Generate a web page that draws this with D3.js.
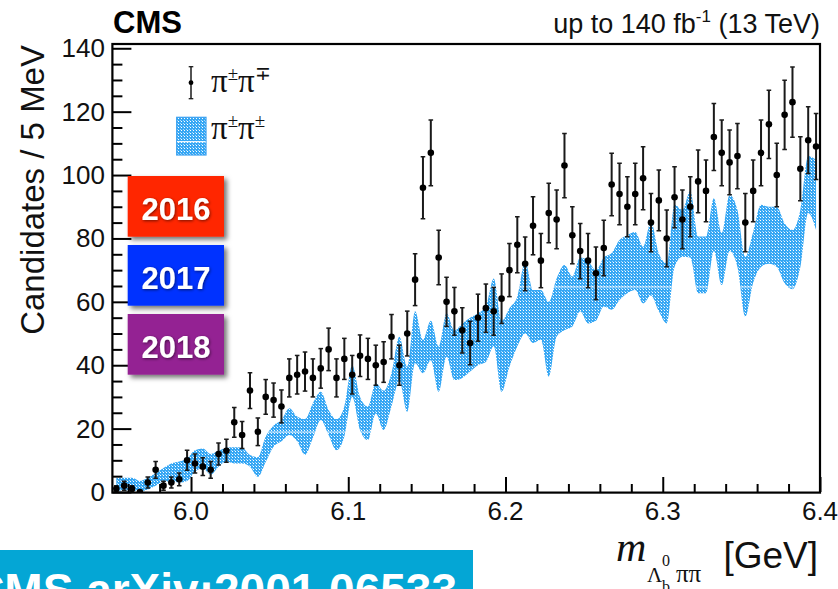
<!DOCTYPE html>
<html>
<head>
<meta charset="utf-8">
<script src="https://cdn.jsdelivr.net/npm/d3@7"></script>
<style>
  html, body { margin: 0; padding: 0; background: #fff; overflow: hidden; }
  svg { display: block; }
</style>
</head>
<body>
<script>
// Λb0ππ invariant-mass spectrum, 5 MeV bins from 5.95 to 6.40 GeV
const massRange = [5.95, 6.40];
const binWidth = 0.005;

// opposite-sign pairs (π±π∓): candidates per bin
const oppositeSign = [
  1, 2, 1, 0, 3, 7, 2, 3, 4, 10,
  9, 8, 7, 12, 13, 22, 18, 32, 19, 30,
  29, 27, 36, 37, 38, 36, 39, 45, 36, 42,
  37, 43, 42, 40, 41, 49, 40, 50, 67, 96,
  107, 74, 60, 57, 51, 47, 55, 58, 57, 61,
  70, 78, 72, 84, 73, 88, 86, 103, 81, 76,
  73, 69, 77, 97, 94, 90, 94, 99, 85, 92,
  80, 93, 86, 90, 98, 95, 112, 107, 104, 106,
  85, 95, 107, 116, 100, 119, 123, 102, 111, 109
];

// same-sign pairs (π±π±): band upper and lower edges per bin
const sameSignHigh = [
  4.5, 4.5, 4.5, 3.5, 4.5, 6, 7.6, 9, 9.6, 10.6,
  13.2, 13.7, 12, 13, 14, 14.1, 14, 11.7, 11, 17.5,
  21, 22.7, 26.4, 23.8, 23, 28, 31.6, 25.9, 23, 27,
  40, 30, 27, 34.3, 32, 37.5, 49, 39.5, 57, 48,
  54, 45.9, 56.4, 51, 53.2, 55, 56.4, 58.5, 67.4, 54,
  58, 61.6, 72.7, 63.7, 63.7, 60, 67.4, 71.6, 68, 74,
  73, 70, 74, 75.4, 79.5, 81, 82, 77.4, 85.3, 75.3,
  72.2, 90.6, 89, 95, 80.6, 80.6, 92.7, 81.7, 93.7, 89,
  74.2, 82, 90.6, 90, 90, 84.8, 82.7, 89, 106, 104.8
];
const sameSignLow = [
  0.5, 0.5, 0.5, 0.3, 0.8, 2, 3.3, 3.3, 3, 3.5,
  6.4, 7.5, 5.5, 8, 9.6, 9, 9, 8, 4.8, 9.5,
  14.3, 16, 18, 16, 11.7, 17, 22.7, 18, 13.2, 17.5,
  30, 19.6, 16.4, 24.8, 19.6, 27, 35, 25.3, 40.6, 37.5,
  41.6, 31.6, 42.7, 35.3, 36, 38, 40, 41, 46, 31.6,
  39.5, 45.9, 50, 47, 48, 36.4, 49, 51, 52.2, 57,
  53.2, 54, 58.5, 57.5, 60.6, 62.7, 63.7, 59.5, 62, 57,
  53.2, 71, 74.2, 74, 62.7, 62.7, 76, 65.3, 76, 71,
  55.3, 66, 71, 72, 71, 65.9, 64, 71, 88, 82.7
];

const xTickValues = [6.0, 6.1, 6.2, 6.3, 6.4];
const xTickLabels = ["6.0", "6.1", "6.2", "6.3", "6.4"];
const yTickValues = [0, 20, 40, 60, 80, 100, 120, 140];
const yearLabels = ["2016", "2017", "2018"];
const yearColors = ["#ff2600", "#0433ff", "#942193"];

const W = 838, H = 589;
const plot = { left: 112.4, right: 820, top: 44, bottom: 492 };

const x = d3.scaleLinear().domain(massRange).range([plot.left, plot.right]);
const y = d3.scaleLinear().domain([0, 141.35]).range([plot.bottom, plot.top]);

const centres = oppositeSign.map((_, i) => massRange[0] + binWidth * (i + 0.5));

const svg = d3.select("body").append("svg").attr("width", W).attr("height", H);
const defs = svg.append("defs");

// dotted light-blue fill used for the same-sign band
const pat = defs.append("pattern").attr("id", "dots")
  .attr("patternUnits", "userSpaceOnUse").attr("width", 3).attr("height", 3);
pat.append("rect").attr("width", 3).attr("height", 3).attr("fill", "#36a7f4");
pat.append("rect").attr("x", 1).attr("y", 1).attr("width", 1).attr("height", 1)
  .attr("fill", "#ffffff");
pat.append("rect").attr("x", 0).attr("y", 0).attr("width", 1).attr("height", 1)
  .attr("fill", "#a8d8fa");

const shadow = defs.append("filter").attr("id", "boxShadow")
  .attr("x", "-20%").attr("y", "-20%").attr("width", "150%").attr("height", "150%");
shadow.append("feDropShadow").attr("dx", 3).attr("dy", 3).attr("stdDeviation", 2.5)
  .attr("flood-color", "#000").attr("flood-opacity", 0.55);

const textShadow = defs.append("filter").attr("id", "textShadow")
  .attr("x", "-20%").attr("y", "-30%").attr("width", "140%").attr("height", "160%");
textShadow.append("feDropShadow").attr("dx", 0.8).attr("dy", 1).attr("stdDeviation", 1.4)
  .attr("flood-color", "#000").attr("flood-opacity", 0.55);

defs.append("clipPath").attr("id", "plotClip").append("rect")
  .attr("x", plot.left).attr("y", plot.top)
  .attr("width", plot.right - plot.left).attr("height", plot.bottom - plot.top);

// same-sign band
const band = d3.area()
  .x((d, i) => x(centres[i]))
  .y0((d, i) => y(sameSignLow[i]))
  .y1((d, i) => y(sameSignHigh[i]))
  .curve(d3.curveMonotoneX);

const bandPath = band(sameSignHigh);
defs.append("clipPath").attr("id", "bandClip").append("path").attr("d", bandPath);

const gPlot = svg.append("g").attr("clip-path", "url(#plotClip)");
gPlot.append("path").attr("d", bandPath).attr("fill", "url(#dots)");

// faint white seams inside the band fill
gPlot.append("g").attr("clip-path", "url(#bandClip)")
  .selectAll("line").data([287, 432]).join("line")
  .attr("x1", plot.left).attr("x2", plot.right)
  .attr("y1", d => d).attr("y2", d => d)
  .attr("stroke", "#ffffff").attr("stroke-width", 1.2).attr("opacity", 0.85);

// opposite-sign points with Poisson error bars
const pts = gPlot.append("g");
oppositeSign.forEach((n, i) => {
  const cx = x(centres[i]);
  const err = Math.sqrt(n);
  if (err > 0) {
    pts.append("line").attr("x1", cx).attr("x2", cx)
      .attr("y1", y(n - err)).attr("y2", y(n + err))
      .attr("stroke", "#1a1a1a").attr("stroke-width", 2);
    [n - err, n + err].forEach(v => {
      pts.append("line").attr("x1", cx - 2.3).attr("x2", cx + 2.3)
        .attr("y1", y(v)).attr("y2", y(v))
        .attr("stroke", "#1a1a1a").attr("stroke-width", 1.5);
    });
  }
  pts.append("circle").attr("cx", cx).attr("cy", y(n)).attr("r", 3.3).attr("fill", "#000");
});

// axes
const font = "'Liberation Sans', Arial, Helvetica, sans-serif";

svg.append("g").attr("transform", `translate(0,${plot.bottom})`)
  .call(d3.axisTop(x).tickValues(xTickValues).tickSize(15).tickFormat(""));
const xMinor = d3.range(5.96, 6.40, 0.02).filter(v => !xTickValues.some(t => Math.abs(t - v) < 1e-6));
svg.append("g").attr("transform", `translate(0,${plot.bottom})`)
  .call(d3.axisTop(x).tickValues(xMinor).tickSize(8).tickFormat(""));

svg.append("g").attr("transform", `translate(${plot.left},0)`)
  .call(d3.axisRight(y).tickValues(yTickValues).tickSize(19).tickFormat(""));
const yMinor = d3.range(5, 141, 5).filter(v => v % 20 !== 0);
svg.append("g").attr("transform", `translate(${plot.left},0)`)
  .call(d3.axisRight(y).tickValues(yMinor).tickSize(10).tickFormat(""));

svg.selectAll(".domain").remove();
svg.selectAll(".tick line").attr("stroke", "#000").attr("stroke-width", 2);

// frame
svg.append("rect").attr("x", plot.left).attr("y", plot.top)
  .attr("width", plot.right - plot.left).attr("height", plot.bottom - plot.top + 0.6)
  .attr("fill", "none").attr("stroke", "#000").attr("stroke-width", 2.2);

// tick labels
svg.append("g").selectAll("text").data(xTickValues).join("text")
  .attr("x", d => x(d)).attr("y", 520)
  .attr("text-anchor", "middle").attr("font-family", font).attr("font-size", 26)
  .attr("fill", "#111").text((d, i) => xTickLabels[i]);

svg.append("g").selectAll("text").data(yTickValues).join("text")
  .attr("x", 105).attr("y", d => y(d) + 9)
  .attr("text-anchor", "end").attr("font-family", font).attr("font-size", 26)
  .attr("fill", "#111").text(d => d);

// axis titles
svg.append("text").attr("transform", "translate(44,45) rotate(-90)")
  .attr("text-anchor", "end").attr("font-family", font).attr("font-size", 33)
  .attr("fill", "#111").text("Candidates / 5 MeV");

const serif = "'Liberation Serif', 'Times New Roman', serif";
const xt = svg.append("g");
xt.append("text").attr("x", 616).attr("y", 561).attr("font-family", serif)
  .attr("font-style", "italic").attr("font-size", 42).attr("fill", "#111").text("m");
xt.append("text").attr("x", 647).attr("y", 582).attr("font-family", serif)
  .attr("font-size", 21).attr("fill", "#111").text("Λ");
xt.append("text").attr("x", 662).attr("y", 566).attr("font-family", serif)
  .attr("font-size", 16).attr("fill", "#111").text("0");
xt.append("text").attr("x", 662).attr("y", 592).attr("font-family", serif)
  .attr("font-size", 16).attr("fill", "#111").text("b");
xt.append("text").attr("x", 676).attr("y", 582).attr("font-family", serif)
  .attr("font-size", 25).attr("fill", "#111").text("ππ");
xt.append("text").attr("x", 818).attr("y", 568).attr("text-anchor", "end")
  .attr("font-family", font).attr("font-size", 37).attr("fill", "#111").text("[GeV]");

// header
svg.append("text").attr("x", 113).attr("y", 33).attr("font-family", font)
  .attr("font-weight", "bold").attr("font-size", 31).attr("fill", "#000").text("CMS");
const lumi = svg.append("text").attr("x", 820).attr("y", 33).attr("text-anchor", "end")
  .attr("font-family", font).attr("font-size", 27).attr("fill", "#111");
lumi.append("tspan").text("up to 140 fb");
lumi.append("tspan").attr("dy", -11).attr("font-size", 17).text("-1");
lumi.append("tspan").attr("dy", 11).text(" (13 TeV)");

// legend
const leg = svg.append("g");
leg.append("line").attr("x1", 191).attr("x2", 191).attr("y1", 66.7).attr("y2", 98.7)
  .attr("stroke", "#1a1a1a").attr("stroke-width", 1.5);
[66.7, 98.7].forEach(v => leg.append("line").attr("x1", 188.7).attr("x2", 193.3)
  .attr("y1", v).attr("y2", v).attr("stroke", "#1a1a1a").attr("stroke-width", 1.3));
leg.append("circle").attr("cx", 191).attr("cy", 82.7).attr("r", 2.4).attr("fill", "#000");

leg.append("rect").attr("x", 176.7).attr("y", 117.3).attr("width", 29.3).attr("height", 37.7)
  .attr("fill", "url(#dots)").attr("stroke", "#3aa0f0").attr("stroke-width", 1.2);
leg.append("line").attr("x1", 177).attr("x2", 205.7).attr("y1", 141.7).attr("y2", 141.7)
  .attr("stroke", "#fff").attr("stroke-width", 1.2);

function piLabel(yBase, second) {
  const t = leg.append("text").attr("x", 211).attr("y", yBase).attr("font-family", serif)
    .attr("font-size", 33).attr("fill", "#111");
  t.append("tspan").text("π");
  t.append("tspan").attr("dy", -12).attr("font-size", 19).text("±");
  t.append("tspan").attr("dy", 12).text("π");
  t.append("tspan").attr("dy", -12).attr("font-size", 19).text(second);
}
piLabel(92, "∓");
piLabel(138.5, "±");

// data-taking year badges
const badges = svg.append("g").selectAll("g").data(yearLabels).join("g")
  .attr("transform", (d, i) => `translate(127.7,${176 + 69 * i})`);
badges.append("rect").attr("width", 96.3).attr("height", 60.7)
  .attr("fill", (d, i) => yearColors[i]).attr("filter", "url(#boxShadow)");
badges.append("text").attr("x", 48.2).attr("y", 44).attr("text-anchor", "middle")
  .attr("font-family", font).attr("font-weight", "bold").attr("font-size", 31)
  .attr("fill", "#fff").attr("filter", "url(#textShadow)").text(d => d);

// reference banner
svg.append("rect").attr("x", 0).attr("y", 550).attr("width", 473).attr("height", 39)
  .attr("fill", "#04a6d5");
svg.append("text").attr("x", 457).attr("y", 606).attr("text-anchor", "end")
  .attr("font-family", font).attr("font-weight", "bold").attr("font-size", 46)
  .attr("fill", "#fff").text("CMS arXiv:2001.06533");
</script>
</body>
</html>
